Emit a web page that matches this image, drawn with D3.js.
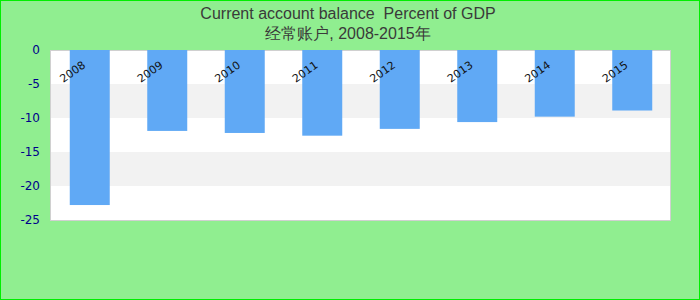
<!DOCTYPE html>
<html><head><meta charset="utf-8">
<script src="https://cdn.jsdelivr.net/npm/d3@7"></script>
<style>html,body{margin:0;padding:0;background:#90EE90;}svg{display:block;}</style>
</head><body>
<script>
const categories = ["2008","2009","2010","2011","2012","2013","2014","2015"];
const values = [-22.8, -11.9, -12.2, -12.6, -11.6, -10.6, -9.8, -8.9];
const yTicks = [0, -5, -10, -15, -20, -25];
const titleLine1 = "Current account balance  Percent of GDP";
const titleLine2 = "经常账户, 2008-2015年";

const W = 700, H = 300;
const svg = d3.select("body").append("svg").attr("width", W).attr("height", H);
svg.append("rect").attr("x",0.5).attr("y",0.5).attr("width",W-1).attr("height",H-1)
  .attr("fill","#90EE90").attr("stroke","#00EE00").attr("stroke-width",1);

const plot = {left: 50, right: 670, top: 50, bottom: 220};
const y = d3.scaleLinear().domain([-25, 0]).range([plot.bottom, plot.top]);
const x = d3.scaleBand().domain(categories).range([plot.left+1, plot.right+1]).paddingInner(0.484).paddingOuter(0.242);

svg.append("rect").attr("x",plot.left).attr("y",plot.top).attr("width",plot.right-plot.left).attr("height",plot.bottom-plot.top)
  .attr("fill","#fff");
for (let i = 0; i < yTicks.length-1; i++) {
  if (i % 2 === 1) {
    svg.append("rect").attr("x",plot.left).attr("width",plot.right-plot.left)
      .attr("y", y(yTicks[i])).attr("height", y(yTicks[i+1]) - y(yTicks[i])).attr("fill","#f2f2f2");
  }
}
svg.append("rect").attr("x",plot.left+0.5).attr("y",plot.top+0.5).attr("width",plot.right-plot.left).attr("height",plot.bottom-plot.top)
  .attr("fill","none").attr("stroke","#d0d0d0").attr("stroke-width",1);

svg.selectAll(".bar").data(values).enter().append("rect")
  .attr("x",(d,i)=>x(categories[i])).attr("width",x.bandwidth())
  .attr("y",y(0)).attr("height",d=>y(d)-y(0)).attr("fill","#60A9F5");

const yAxis = d3.axisLeft(y).tickValues(yTicks).tickFormat(d=>String(d)).tickSize(0).tickPadding(0);
const ga = svg.append("g").attr("transform",`translate(${plot.left-10},0)`).call(yAxis);
ga.select(".domain").remove();
ga.selectAll("text").attr("fill","#00008B").style("font-family","DejaVu Sans").style("font-size","12px");

svg.selectAll(".xl").data(categories).enter().append("text")
  .attr("transform",d=>`translate(${x(d)+x.bandwidth()/2-17},72) rotate(-35)`)
  .attr("text-anchor","middle").attr("dominant-baseline","central")
  .style("font-family","DejaVu Sans").style("font-size","11px").attr("fill","#111").text(d=>d);

svg.append("text").attr("x",348).attr("y",19).attr("text-anchor","middle").style("white-space","pre")
  .style("font-family","Liberation Sans, Arial").style("font-size","16px").attr("fill","#3a3a3a").text(titleLine1);
svg.append("text").attr("x",348).attr("y",39).attr("text-anchor","middle")
  .style("font-family","Liberation Sans, Arial").style("font-size","16px").attr("fill","#3a3a3a").text(titleLine2);
</script>
</body></html>
